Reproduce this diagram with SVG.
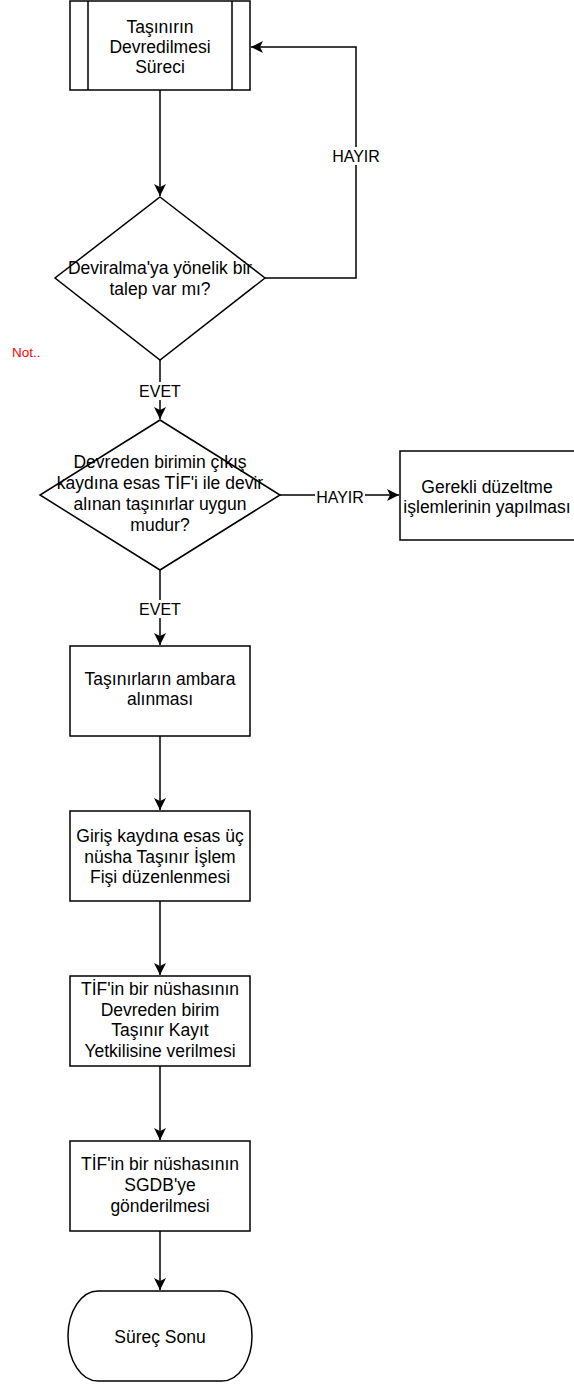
<svg xmlns="http://www.w3.org/2000/svg" width="574" height="1385" viewBox="0 0 574 1385">
<style>
.s{fill:#fff;stroke:#000;stroke-width:1.5}
.ln{fill:none;stroke:#000;stroke-width:1.5}
.t{font-family:"Liberation Sans",Arial,Helvetica,sans-serif;font-size:17.5px;fill:#000;text-anchor:middle}
.lb{font-family:"Liberation Sans",Arial,Helvetica,sans-serif;font-size:16px;fill:#000;text-anchor:middle}
.bg{fill:#fff;stroke:none}
</style>
<defs>
<marker id="arr" viewBox="-13 -7 14 14" refX="0" refY="0" markerWidth="14" markerHeight="14" markerUnits="userSpaceOnUse" orient="auto">
<path d="M0,0 L-12,-6 L-9,0 L-12,6 Z" fill="#000"/>
</marker>
</defs>
<rect width="574" height="1385" fill="#fff"/>
<g id="connectors">
<path class="ln" d="M160,90 V196" marker-end="url(#arr)"/>
<path class="ln" d="M265,278 H356 V47 H251" marker-end="url(#arr)"/>
<rect class="bg" x="331" y="147" width="50" height="18"/>
<text class="lb" x="356" y="162">HAYIR</text>
<path class="ln" d="M160,360 V419" marker-end="url(#arr)"/>
<rect class="bg" x="136" y="382" width="48" height="18"/>
<text class="lb" x="160" y="397">EVET</text>
<path class="ln" d="M280,495 H399" marker-end="url(#arr)"/>
<rect class="bg" x="315" y="488" width="50" height="18"/>
<text class="lb" x="340" y="503">HAYIR</text>
<path class="ln" d="M160,570 V645" marker-end="url(#arr)"/>
<rect class="bg" x="136" y="600" width="48" height="18"/>
<text class="lb" x="160" y="615">EVET</text>
<path class="ln" d="M160,736 V810" marker-end="url(#arr)"/>
<path class="ln" d="M160,901 V975" marker-end="url(#arr)"/>
<path class="ln" d="M160,1066 V1140" marker-end="url(#arr)"/>
<path class="ln" d="M160,1231 V1290" marker-end="url(#arr)"/>
</g>
<g id="start">
<rect class="s" x="70" y="1" width="180" height="89"/>
<path class="ln" d="M88,1 V90 M232,1 V90"/>
<text class="t" x="160" y="33">Taşınırın</text>
<text class="t" x="160" y="53">Devredilmesi</text>
<text class="t" x="160" y="73">Süreci</text>
</g>
<g id="decision1">
<path class="s" d="M160,197 L265,278 L160,360 L55,278 Z"/>
<text class="t" x="160" y="274">Deviralma'ya yönelik bir</text>
<text class="t" x="160" y="295">talep var mı?</text>
</g>
<g id="note">
<text x="12" y="357" style="font-family:'Liberation Sans',Arial,Helvetica,sans-serif;font-size:13.5px;fill:#ff0000">Not..</text>
</g>
<g id="decision2">
<path class="s" d="M160,420 L280,495 L160,570 L40,495 Z"/>
<text class="t" x="160" y="468">Devreden birimin çıkış</text>
<text class="t" x="160" y="489">kaydına esas TİF'i ile devir</text>
<text class="t" x="160" y="510">alınan taşınırlar uygun</text>
<text class="t" x="160" y="531">mudur?</text>
</g>
<g id="correction">
<rect class="s" x="400" y="451" width="180" height="89"/>
<text class="t" x="487" y="493">Gerekli düzeltme</text>
<text class="t" x="487" y="513">işlemlerinin yapılması</text>
</g>
<g id="box1">
<rect class="s" x="70" y="646" width="180" height="90"/>
<text class="t" x="160" y="685">Taşınırların ambara</text>
<text class="t" x="160" y="705">alınması</text>
</g>
<g id="box2">
<rect class="s" x="70" y="811" width="180" height="90"/>
<text class="t" x="160" y="842">Giriş kaydına esas üç</text>
<text class="t" x="160" y="862.5">nüsha Taşınır İşlem</text>
<text class="t" x="160" y="883">Fişi düzenlenmesi</text>
</g>
<g id="box3">
<rect class="s" x="70" y="976" width="180" height="90"/>
<text class="t" x="160" y="995">TİF'in bir nüshasının</text>
<text class="t" x="160" y="1015.5">Devreden birim</text>
<text class="t" x="160" y="1036">Taşınır Kayıt</text>
<text class="t" x="160" y="1056.5">Yetkilisine verilmesi</text>
</g>
<g id="box4">
<rect class="s" x="70" y="1141" width="180" height="90"/>
<text class="t" x="160" y="1170">TİF'in bir nüshasının</text>
<text class="t" x="160" y="1191">SGDB'ye</text>
<text class="t" x="160" y="1211.5">gönderilmesi</text>
</g>
<g id="end">
<path class="s" d="M98,1291 H222 A30,45 0 0 1 222,1381 H98 A30,45 0 0 1 98,1291 Z"/>
<text class="t" x="160" y="1343">Süreç Sonu</text>
</g>
</svg>
